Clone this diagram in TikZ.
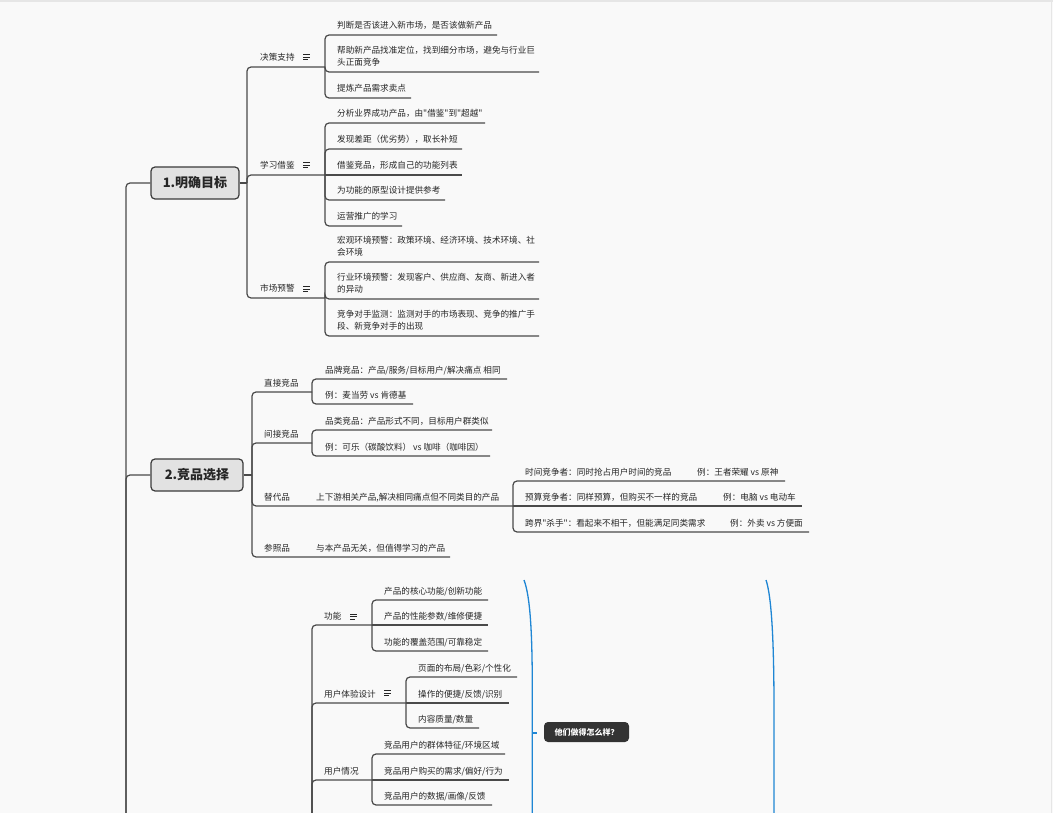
\documentclass[tikz,border=0pt]{standalone}
\usepackage{fontspec}
\newfontfamily\cjk{Noto Sans CJK SC}
\definecolor{bgc}{HTML}{F9F9F9}
\definecolor{edgec}{HTML}{E6E6E6}
\definecolor{linec}{HTML}{4A4A4A}
\definecolor{txtc}{HTML}{262626}
\definecolor{topicf}{HTML}{E2E2E2}
\definecolor{topicb}{HTML}{3C3C3C}
\definecolor{sumblue}{HTML}{1F86D4}
\definecolor{sumf}{HTML}{333333}
\newcommand\mmkid[3]{\draw[conn] (#1) |- (#3,#2);}
\newcommand\mmstraight[2]{\draw[conn] (#1) -- ++(#2,0);}
\newcommand\mmicon[2]{\draw[iconln] (#1,#2) -- ++(7,0) (#1,#2+2.6) -- ++(7,0) (#1,#2+5.2) -- ++(4.8,0);}
\begin{document}
\begin{tikzpicture}[x=1pt,y=-1pt,
  conn/.style={draw=linec, line width=1.2pt, rounded corners=4pt},
  iconln/.style={draw=txtc, line width=0.9pt},
  txt/.style={anchor=base west, inner sep=0pt, text=txtc, font=\cjk\fontsize{8.6}{12}\selectfont},
  topic/.style={draw=topicb, fill=topicf, line width=1.2pt, rounded corners=4pt, minimum width=#1, minimum height=32pt, inner sep=0pt, text=txtc, font=\cjk\fontsize{13}{15}\selectfont\bfseries},
  summ/.style={fill=sumf, rounded corners=4pt, minimum width=85pt, minimum height=20pt, inner sep=0pt, text=white, font=\cjk\fontsize{8}{10}\selectfont\bfseries},
  brace/.style={draw=sumblue, line width=1.3pt}]
\path[use as bounding box] (0,0) rectangle (1053,813);
\clip (0,0) rectangle (1053,813);
\fill[bgc] (0,0) rectangle (1053,813);
\draw[edgec, line width=1.5pt] (0,1.2) -- (1053,1.2);
\draw[edgec, line width=1pt] (1051.8,0) -- (1051.8,813);

% junction coordinates
\coordinate (root) at (126,1000);
\coordinate (c1) at (247,183);
\coordinate (cA) at (325,67);
\coordinate (cB) at (325,175);
\coordinate (cC) at (325,298);
\coordinate (c2) at (252,475);
\coordinate (cD) at (312,392);
\coordinate (cE) at (312,443);
\coordinate (cF) at (513,506);
\coordinate (c3) at (312,900);
\coordinate (cG) at (372,625);
\coordinate (cH) at (406,703);
\coordinate (cI) at (372,780);

% main topics
\node[topic=88pt] (t1) at (195,183) {1.明确目标};
\node[topic=92pt] (t2) at (197,475) {2.竞品选择};
\draw[conn] (root) |- (t1.west);
\draw[conn] (root) |- (t2.west);
\draw[conn] (t1.east) -- (c1);
\draw[conn] (t2.east) -- (c2);

% ---- topic 1 ----
\mmkid{c1}{67}{325}
\mmkid{c1}{175}{325}
\mmkid{c1}{298}{325}
\node[txt] (k1) at (260,61) {决策支持};
\node[txt] (k2) at (260,169) {学习借鉴};
\node[txt] (k3) at (260,292) {市场预警};
\mmicon{303}{54.5}
\mmicon{303}{162.5}
\mmicon{303}{286.5}

\mmkid{cA}{35}{497}
\mmkid{cA}{72}{539}
\mmkid{cA}{98}{411}
\node[txt] (a1) at (337,29) {判断是否该进入新市场，是否该做新产品};
\node[txt] (a2) at (337,54) {帮助新产品找准定位，找到细分市场，避免与行业巨};
\node[txt] (a2b) at (337,66) {头正面竞争};
\node[txt] (a3) at (337,92) {提炼产品需求卖点};

\mmkid{cB}{123}{485}
\mmkid{cB}{149}{462}
\mmstraight{cB}{137}
\mmkid{cB}{200}{445}
\mmkid{cB}{226}{402}
\node[txt] (b1) at (337,117) {分析业界成功产品，由"借鉴"到"超越"};
\node[txt] (b2) at (337,143) {发现差距（优劣势），取长补短};
\node[txt] (b3) at (337,169) {借鉴竞品，形成自己的功能列表};
\node[txt] (b4) at (337,194) {为功能的原型设计提供参考};
\node[txt] (b5) at (337,220) {运营推广的学习};

\mmkid{cC}{262}{539}
\mmkid{cC}{299}{539}
\mmkid{cC}{336}{539}
\node[txt] (m1) at (337,244) {宏观环境预警：政策环境、经济环境、技术环境、社};
\node[txt] (m1b) at (337,256) {会环境};
\node[txt] (m2) at (337,281) {行业环境预警：发现客户、供应商、友商、新进入者};
\node[txt] (m2b) at (337,293) {的异动};
\node[txt] (m3) at (337,318) {竞争对手监测：监测对手的市场表现、竞争的推广手};
\node[txt] (m3b) at (337,330) {段、新竞争对手的出现};

% ---- topic 2 ----
\mmkid{c2}{392}{312}
\mmkid{c2}{443}{312}
\mmkid{c2}{506}{513}
\mmkid{c2}{557}{450}
\node[txt] (d0) at (264,386) {直接竞品};
\node[txt] (e0) at (264,437) {间接竞品};
\node[txt] (f0) at (264,500) {替代品};
\node[txt] (f1) at (316,500) {上下游相关产品,解决相同痛点但不同类目的产品};
\node[txt] (g0) at (264,551) {参照品};
\node[txt] (g1) at (316,551) {与本产品无关，但值得学习的产品};

\mmkid{cD}{379}{507}
\mmkid{cD}{404}{413}
\node[txt] (d1) at (325,373) {品牌竞品：产品/服务/目标用户/解决痛点 相同};
\node[txt] (d2) at (325,398) {例：麦当劳 vs 肯德基};

\mmkid{cE}{430}{492}
\mmkid{cE}{456}{490}
\node[txt] (e1) at (325,424) {品类竞品：产品形式不同，目标用户群类似};
\node[txt] (e2) at (325,450) {例：可乐（碳酸饮料） vs 咖啡（咖啡因）};

\mmkid{cF}{481}{785}
\mmstraight{cF}{289}
\mmkid{cF}{532}{809}
\node[txt] (h1) at (525,475) {时间竞争者：同时抢占用户时间的竞品};
\node[txt] (h1x) at (697,475) {例：王者荣耀 vs 原神};
\node[txt] (h2) at (525,500) {预算竞争者：同样预算，但购买不一样的竞品};
\node[txt] (h2x) at (723,500) {例：电脑 vs 电动车};
\node[txt] (h3) at (525,526) {跨界"杀手"：看起来不相干，但能满足同类需求};
\node[txt] (h3x) at (730,526) {例：外卖 vs 方便面};

% ---- topic 3 (partly visible) ----
\mmkid{c3}{625}{372}
\mmkid{c3}{703}{406}
\mmkid{c3}{780}{372}
\node[txt] (p0) at (324,619) {功能};
\node[txt] (q0) at (324,697) {用户体验设计};
\node[txt] (r0) at (324,774) {用户情况};
\mmicon{350}{614}
\mmicon{384}{690.5}

\mmkid{cG}{600}{488}
\mmstraight{cG}{116}
\mmkid{cG}{651}{488}
\node[txt] (p1) at (384,594) {产品的核心功能/创新功能};
\node[txt] (p2) at (384,619) {产品的性能参数/维修便捷};
\node[txt] (p3) at (384,645) {功能的覆盖范围/可靠稳定};

\mmkid{cH}{677}{517}
\mmstraight{cH}{103}
\mmkid{cH}{728}{479}
\node[txt] (q1) at (418,671) {页面的布局/色彩/个性化};
\node[txt] (q2) at (418,697) {操作的便捷/反馈/识别};
\node[txt] (q3) at (418,722) {内容质量/数量};

\mmkid{cI}{754}{505}
\mmstraight{cI}{137}
\mmkid{cI}{805}{492}
\node[txt] (r1) at (384,748) {竞品用户的群体特征/环境区域};
\node[txt] (r2) at (384,774) {竞品用户购买的需求/偏好/行为};
\node[txt] (r3) at (384,799) {竞品用户的数据/画像/反馈};

% ---- summaries ----
\coordinate (sL) at (524,580);
\coordinate (sLm) at (532.3,733);
\coordinate (sR) at (766,580);
\draw[brace] (sL) .. controls (530,596) and (532.3,630) .. (532.3,690) -- (532.3,830);
\draw[brace] (sR) .. controls (771.5,596) and (774,640) .. (774,710) -- (774,830);
\node[summ] (s1) at (586.5,732) {他们做得怎么样？};
\draw[brace] (sLm) -- (537,733);
\end{tikzpicture}
\end{document}
